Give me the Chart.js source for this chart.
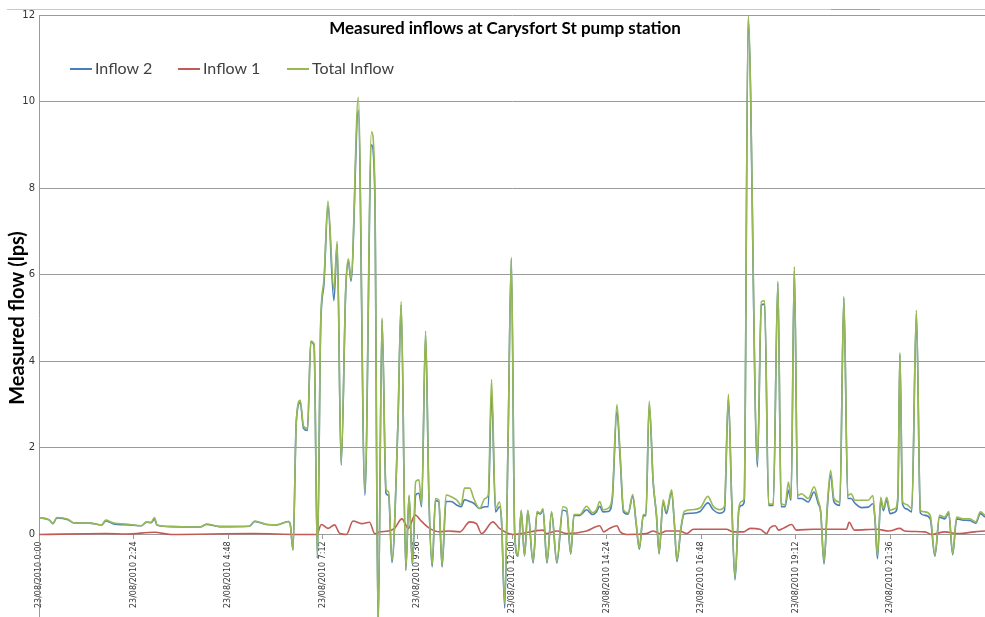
<!DOCTYPE html>
<html>
<head>
<meta charset="utf-8">
<script src="https://cdn.jsdelivr.net/npm/chart.js@4.4.1/dist/chart.umd.min.js"></script>
<style>
  html, body { margin: 0; padding: 0; overflow: hidden; background: #fff; }
  #wrap { position: relative; width: 985px; height: 631px; }
  #title { position: absolute; left: 0; width: 1010px; top: 17px; text-align: center;
           font: bold 17px Lato, sans-serif; color: #000; }
  .leg { position: absolute; top: 58px; font: 16px Lato, sans-serif; color: #404040; white-space: nowrap; }
  .leg i { display: inline-block; width: 22px; height: 2px; vertical-align: middle; margin-right: 3px; position: relative; top: -1px; }
  .topline { position: absolute; top: 9px; left: 7px; right: 0; height: 1px; background: #c8c8c8; }
  .topmark { position: absolute; top: 9px; left: 831px; width: 49px; height: 1px; background: #d49a55; }
</style>
</head>
<body>
<div id="wrap">
  <canvas id="flowChart"></canvas>
  <div class="topline"></div>
  <div class="topmark"></div>
  <div id="title">Measured inflows at Carysfort St pump station</div>
  <div class="leg" style="left:70px"><i style="background:#4a7ebb"></i>Inflow 2</div>
  <div class="leg" style="left:178px"><i style="background:#c25a57"></i>Inflow 1</div>
  <div class="leg" style="left:287px"><i style="background:#98b954"></i>Total Inflow</div>
</div>
<script>
// Time of each reading, minutes after 23/08/2010 0:00
var timesMain = [0, 16, 21, 27, 44, 52, 77, 95, 101, 112, 138, 155, 163, 170, 175, 179, 203, 244, 254, 274,
  319, 327, 345, 360, 378, 381, 385, 390, 396, 401, 407, 412, 417, 422, 427, 432, 438, 447, 452, 458,
  465, 469, 473, 484, 494, 504, 509, 514, 520, 526, 530, 535, 544, 549, 556, 561, 566, 571, 576, 580,
  586, 591, 596, 601, 606, 611, 617, 625, 633, 640, 645, 653, 659, 668, 676, 681, 686, 692, 698, 701,
  706, 711, 716, 721, 726, 731, 736, 741, 749, 755, 760, 764, 770, 777, 785, 794, 800, 806, 811, 820,
  830, 839, 845, 850, 855, 863, 869, 876, 881, 886, 893, 900, 905, 910, 916, 920, 925, 931, 936, 940,
  946, 951, 959, 963, 967, 973, 978, 989, 1002, 1014, 1022, 1032, 1039, 1045, 1050, 1055, 1061, 1065, 1069, 1075,
  1089, 1095, 1100, 1106, 1113, 1120, 1125, 1131, 1136, 1140, 1145, 1150, 1156, 1166, 1175, 1181, 1185, 1190, 1195, 1200,
  1205, 1214, 1220, 1226, 1231, 1237, 1247, 1257, 1264, 1267, 1271, 1276, 1280, 1285, 1290, 1298, 1302, 1305, 1309, 1315,
  1323, 1330, 1336, 1343, 1351, 1358, 1365, 1373, 1379, 1385, 1391, 1401, 1411, 1420, 1427, 1434];

var totalInflow = [0.39, 0.33, 0.25, 0.39, 0.35, 0.27, 0.26, 0.22, 0.33, 0.27, 0.23, 0.2, 0.29, 0.28, 0.39, 0.22, 0.18, 0.17, 0.24, 0.18,
  0.19, 0.31, 0.23, 0.22, 0.3, 0.22, -0.36, 2.6, 3.1, 2.5, 2.45, 4.47, 4.4, -0.53, 4.9, 5.9, 7.7, 5.65, 6.77, 1.65,
  5.7, 6.37, 5.9, 10.1, 1.0, 9.3, 8.1, -2.2, 5.0, 1.05, 0.98, -0.6, 2.56, 5.38, -0.8, 0.91, -0.67, 1.22, 1.26, 0.68,
  4.7, 0.91, -0.7, 0.83, 0.8, -0.71, 0.91, 0.87, 0.8, 0.68, 1.07, 1.07, 0.83, 0.6, 0.83, 0.91, 3.58, 0.6, 0.75, 0.37,
  -1.6, 2.15, 6.4, 0.06, -0.48, 0.56, -0.48, 0.56, -0.63, 0.53, 0.49, 0.6, -0.63, 0.53, -0.63, 0.64, 0.6, -0.43, 0.46, 0.46,
  0.65, 0.5, 0.57, 0.76, 0.57, 0.61, 0.88, 3.0, 1.85, 0.57, 0.5, 0.92, 0.3, -0.32, 0.46, 0.46, 3.08, 1.23, 0.46, -0.43,
  0.8, 0.53, 1.03, 0.3, -0.59, 0.15, 0.53, 0.57, 0.61, 0.88, 0.65, 0.57, 0.65, 3.24, 0.84, -1.0, 0.62, 0.76, 0.83, 12.0,
  1.68, 5.38, 5.4, 0.7, 0.7, 5.85, 0.72, 0.68, 1.21, 0.83, 6.19, 0.9, 0.94, 0.83, 1.1, 0.79, 0.52, -0.64, 0.67, 1.48,
  0.83, 0.75, 5.5, 0.9, 0.94, 0.79, 0.79, 0.79, 0.9, 0.44, -0.48, 0.86, 0.6, 0.86, 0.56, 0.6, 0.9, 4.2, 0.75, 0.69,
  0.6, 5.18, 0.56, 0.52, 0.44, -0.48, 0.44, 0.4, 0.53, -0.44, 0.4, 0.36, 0.36, 0.29, 0.52, 0.44];

var inflow2 = [0.39, 0.33, 0.25, 0.38, 0.34, 0.27, 0.26, 0.22, 0.31, 0.25, 0.22, 0.2, 0.28, 0.27, 0.35, 0.21, 0.18, 0.17, 0.23, 0.18,
  0.19, 0.3, 0.23, 0.22, 0.3, 0.22, -0.36, 2.6, 3.05, 2.45, 2.4, 4.45, 4.35, -0.55, 4.8, 5.8, 7.6, 5.4, 6.7, 1.6,
  5.65, 6.3, 5.85, 9.8, 0.9, 9.0, 7.9, -2.2, 4.95, 0.95, 0.9, -0.65, 2.5, 5.3, -0.83, 0.88, -0.7, 0.91, 0.95, 0.64,
  4.6, 0.88, -0.75, 0.78, 0.75, -0.75, 0.76, 0.76, 0.68, 0.64, 0.8, 0.76, 0.72, 0.6, 0.64, 0.64, 3.27, 0.52, 0.64, 0.35,
  -1.7, 2.1, 6.35, 0.05, -0.5, 0.54, -0.5, 0.54, -0.66, 0.5, 0.47, 0.57, -0.66, 0.5, -0.66, 0.56, 0.53, -0.45, 0.44, 0.44,
  0.57, 0.46, 0.52, 0.65, 0.52, 0.53, 0.8, 2.85, 1.75, 0.52, 0.47, 0.88, 0.28, -0.34, 0.43, 0.43, 3.0, 1.2, 0.43, -0.45,
  0.75, 0.48, 0.98, 0.28, -0.63, 0.12, 0.47, 0.49, 0.53, 0.73, 0.57, 0.49, 0.55, 3.15, 0.8, -1.05, 0.58, 0.67, 0.75, 11.9,
  1.56, 5.3, 5.32, 0.67, 0.67, 5.8, 0.64, 0.64, 1.02, 0.79, 6.1, 0.83, 0.83, 0.75, 0.98, 0.72, 0.5, -0.68, 0.62, 1.37,
  0.75, 0.67, 5.45, 0.83, 0.83, 0.72, 0.62, 0.63, 0.71, 0.4, -0.56, 0.8, 0.55, 0.8, 0.48, 0.52, 0.85, 4.15, 0.7, 0.59,
  0.52, 5.1, 0.5, 0.44, 0.36, -0.5, 0.4, 0.36, 0.5, -0.47, 0.36, 0.33, 0.32, 0.26, 0.48, 0.4];

var timesInflow1 = [0, 102, 133, 175, 200, 324, 395, 421, 428, 438, 448, 456, 466, 476, 489, 501, 509, 517, 529, 539,
  550, 560, 570, 580, 592, 608, 620, 638, 653, 663, 671, 688, 698, 719, 764, 769, 785, 800, 830, 850,
  856, 865, 876, 881, 891, 921, 931, 941, 951, 971, 982, 992, 1042, 1052, 1068, 1078, 1093, 1103, 1108, 1116,
  1121, 1128, 1141, 1148, 1174, 1224, 1228, 1236, 1270, 1288, 1305, 1312, 1343, 1353, 1373, 1393, 1418, 1434];

var inflow1 = [0, 0.02, 0.01, 0.05, 0, 0.02, 0, 0, 0.23, 0.14, 0.22, 0.02, 0, 0.31, 0.25, 0.28, 0.02, 0.06, 0.08, 0.14,
  0.36, 0.14, 0.45, 0.3, 0.14, 0.06, 0.08, 0.06, 0.29, 0.25, 0.02, 0.29, 0.14, 0, 0.1, 0.02, 0.08, 0.02, 0.08, 0.2,
  0.06, 0.14, 0.2, 0.06, 0, 0.02, 0.08, 0.02, 0.08, 0.08, 0.02, 0.12, 0.12, 0.06, 0.06, 0.14, 0.12, 0.02, 0.15, 0.2,
  0.1, 0.14, 0.23, 0.1, 0.12, 0.12, 0.28, 0.1, 0.12, 0.08, 0.14, 0.08, 0.06, 0, 0.06, 0.02, 0.06, 0.08];

// Category axis labels (every 2h24)
var tickLabels = ['23/08/2010 0:00', '23/08/2010 2:24', '23/08/2010 4:48', '23/08/2010 7:12', '23/08/2010 9:36',
  '23/08/2010 12:00', '23/08/2010 14:24', '23/08/2010 16:48', '23/08/2010 19:12', '23/08/2010 21:36'];
var tickStep = 144;

function toPoints(times, values) {
  var pts = [];
  for (var i = 0; i < times.length; i++) {
    pts.push({ x: times[i], y: values[i] });
  }
  return pts;
}

var gridGrey = '#9a9a9a';

new Chart(document.getElementById('flowChart').getContext('2d'), {
  type: 'line',
  data: {
    datasets: [
      { label: 'Inflow 2', data: toPoints(timesMain, inflow2), borderColor: '#4a7ebb', order: 2 },
      { label: 'Inflow 1', data: toPoints(timesInflow1, inflow1), borderColor: '#c25a57', order: 1 },
      { label: 'Total Inflow', data: toPoints(timesMain, totalInflow), borderColor: '#98b954', order: 0 }
    ]
  },
  options: {
    responsive: true,
    maintainAspectRatio: false,
    animation: false,
    layout: { padding: { top: 15, left: 0, right: 0, bottom: 0 } },
    datasets: {
      line: { borderWidth: 1.6, pointRadius: 0, fill: false, cubicInterpolationMode: 'monotone' }
    },
    plugins: {
      legend: { display: false },
      title: { display: false },
      tooltip: { enabled: false }
    },
    scales: {
      x: {
        type: 'linear',
        position: { y: 0 },
        min: 0,
        max: 1434,
        grid: { drawOnChartArea: false, drawTicks: true, tickLength: 4, color: gridGrey },
        border: { color: gridGrey },
        ticks: {
          stepSize: tickStep,
          includeBounds: false,
          autoSkip: false,
          minRotation: 90,
          maxRotation: 90,
          padding: 3,
          color: '#333',
          font: { family: 'DejaVu Sans', size: 8 },
          callback: function(v) { return tickLabels[Math.round(v / tickStep)]; }
        },
        // the axis sits on the zero line, so it should not take room at the bottom
        afterFit: function(scale) { scale.height = 0; }
      },
      y: {
        min: -2,
        max: 12,
        grid: {
          drawTicks: false,
          color: function(ctx) { return ctx.tick && ctx.tick.value < 0 ? 'rgba(0,0,0,0)' : gridGrey; }
        },
        border: { color: gridGrey },
        ticks: {
          stepSize: 2,
          padding: 4,
          color: '#333',
          font: { family: 'DejaVu Sans', size: 10 },
          callback: function(v) { return v < 0 ? '' : v; }
        },
        title: {
          display: true,
          text: 'Measured flow (lps)',
          color: '#000',
          font: { family: 'Lato', size: 20, weight: 'bold' },
          padding: { top: 6, bottom: 0 }
        },
        afterFit: function(scale) { scale.width = 39; }
      }
    }
  }
});
</script>
</body>
</html>
